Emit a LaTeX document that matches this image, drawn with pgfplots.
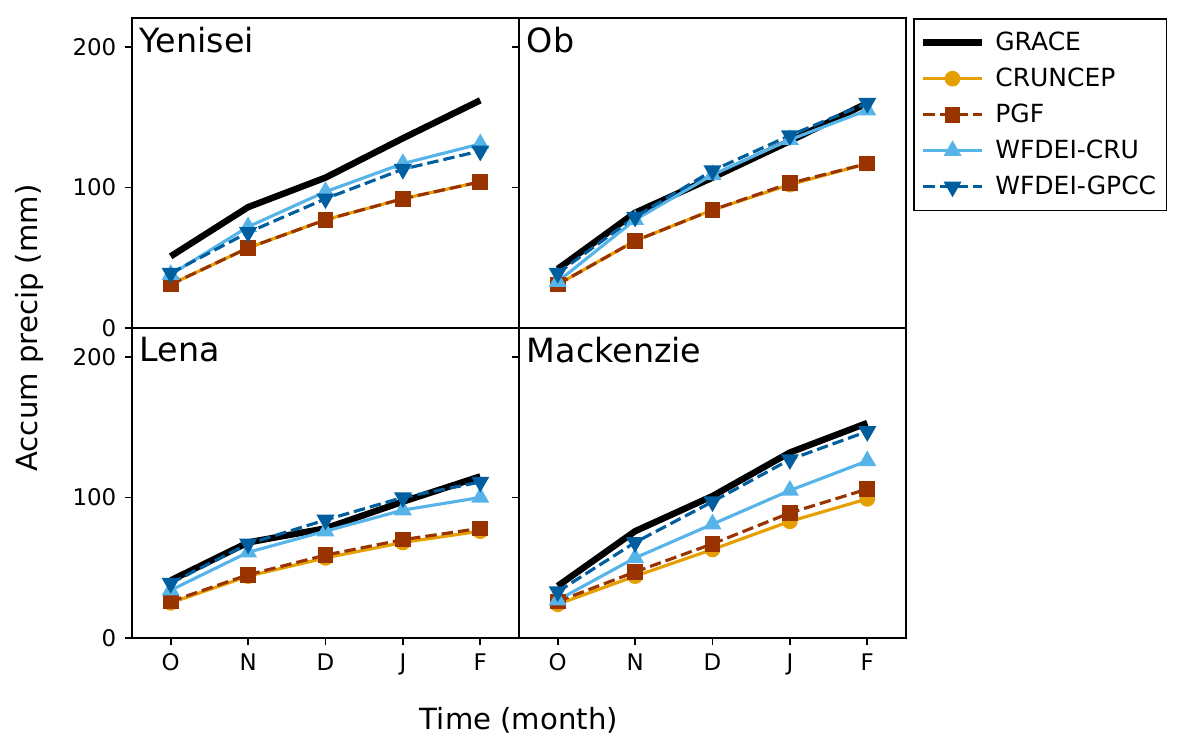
\documentclass[border=0pt]{standalone}
\usepackage{fontspec}
\setmainfont{DejaVu Sans}
\usepackage{pgfplots}
\pgfplotsset{compat=1.18}
\usepgfplotslibrary{groupplots}

\definecolor{cOr}{RGB}{230,159,0}
\definecolor{cBr}{RGB}{153,51,0}
\definecolor{cLb}{RGB}{86,180,233}
\definecolor{cDb}{RGB}{0,94,158}

% x: 0=O 1=N 2=D 3=J 4=F
\pgfplotstableread{
x grace cruncep pgf cru gpcc
0 51 31 31 38 39
1 86 57 57 72 68
2 107 77 77 97 92
3 135 92 92 117 113
4 162 104 104 131 126
}\yenisei
\pgfplotstableread{
x grace cruncep pgf cru gpcc
0 42 31 31 33 39
1 82 62 62 77 79
2 107 84 84 109 112
3 133 102 103 134 137
4 160 117 117 155 160
}\ob
\pgfplotstableread{
x grace cruncep pgf cru gpcc
0 41 25 26 34 39
1 68 44 45 61 67
2 78 57 59 76 84
3 97 68 70 91 100
4 115 76 78 100 111
}\lena
\pgfplotstableread{
x grace cruncep pgf cru gpcc
0 37 24 26 27 33
1 76 44 47 57 68
2 101 63 67 81 97
3 132 83 89 105 127
4 153 99 106 126 147
}\mackenzie

\pgfplotsset{
  sgrace/.style={black, line width=3.1pt, no markers},
  scruncep/.style={cOr, line width=1.5pt, mark=*, mark size=3pt},
  spgf/.style={cBr, line width=1.5pt, dash pattern=on 5.5pt off 2.4pt, mark=square*, mark size=3pt, mark options={solid}},
  scru/.style={cLb, line width=1.5pt, mark=triangle*, mark size=3.5pt, mark options={solid}},
  sgpcc/.style={cDb, line width=1.5pt, dash pattern=on 5.5pt off 2.4pt, mark=triangle*, mark size=3.5pt, mark options={solid, rotate=180}},
}

\newcommand{\basin}[2]{%
  \addplot[sgrace] table[x=x, y=grace] {#1};
  \addplot[scruncep] table[x=x, y=cruncep] {#1};
  \addplot[spgf] table[x=x, y=pgf] {#1};
  \addplot[scru] table[x=x, y=cru] {#1};
  \addplot[sgpcc] table[x=x, y=gpcc] {#1};
  \node[anchor=north west, inner sep=0pt, xshift=3.6pt, yshift=-4.4pt,
        font=\fontsize{16}{19}\selectfont] at (rel axis cs:0,1) {#2};
}

\begin{document}
\begin{tikzpicture}
\begin{groupplot}[
  group style={group size=2 by 2, horizontal sep=0pt, vertical sep=0pt,
    group name=g, xticklabels at=edge bottom, yticklabels at=edge left},
  scale only axis, width=185.76pt, height=148.8pt,
  xmin=-0.5, xmax=4.5, ymin=0, ymax=220.6,
  xtick={0,1,2,3,4}, xticklabels={O,N,D,J,F},
  ytick={0,100,200},
  tick align=outside, xtick pos=bottom, ytick pos=left,
  major tick length=3.5pt,
  tick style={black, line width=0.8pt},
  axis line style={line width=0.8pt},
  tick label style={font=\fontsize{11}{13}\selectfont},
  /pgf/number format/assume math mode=true,
  xticklabel style={yshift=-0.5pt},
  yticklabel style={xshift=-0.5pt},
  clip=false,
]
\nextgroupplot[xmajorticks=false]
\basin{\yenisei}{Yenisei}

\nextgroupplot[xmajorticks=false,
  legend style={at={(1,1)}, anchor=north west, xshift=3.4pt,
    draw=black, line width=0.8pt, font=\fontsize{12}{14}\selectfont,
    cells={anchor=west}, row sep=2.9pt, inner xsep=3pt, inner ysep=4.2pt,
    /tikz/every odd column/.append style={column sep=3pt}},
  legend image code/.code={\draw[mark repeat=2, mark phase=2, #1]
    plot coordinates {(0pt,0pt) (14pt,0pt) (28pt,0pt)};},
]
\basin{\ob}{Ob}
\legend{GRACE, CRUNCEP, PGF, WFDEI-CRU, WFDEI-GPCC}

\nextgroupplot
\basin{\lena}{Lena}

\nextgroupplot
\basin{\mackenzie}{Mackenzie}
\end{groupplot}

\node[font=\fontsize{14}{17}\selectfont, anchor=center]
  at ([yshift=-39.4pt]g c1r2.south east) {Time (month)};
\node[font=\fontsize{14}{17}\selectfont, anchor=center, rotate=90]
  at ([xshift=-49pt]g c1r2.north west) {Accum precip (mm)};

\pgfresetboundingbox
\path (g c1r1.north west) ++(-63.36pt,8.64pt) rectangle ++(568.8pt,-360.96pt);
\end{tikzpicture}
\end{document}
